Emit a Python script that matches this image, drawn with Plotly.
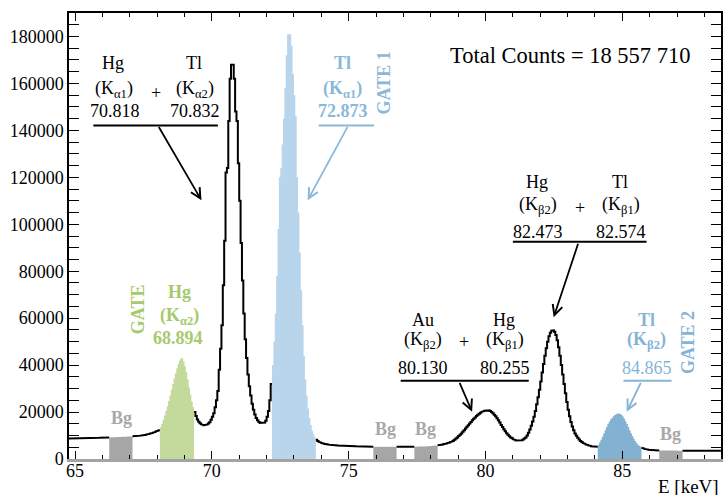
import numpy as np
import plotly.graph_objects as go

# ---- spectrum data: 0.05 keV bins, one row per keV, starting at 64.70 keV ----
BIN_START = 64.7
BIN_WIDTH = 0.05
counts = [
    # 64.70
    8700, 8700, 8700, 8700, 8750, 8750, 8800, 8800, 8800, 8800,
    8850, 8850, 8850, 8850, 8900, 8900, 8900, 8900, 8950, 8950,
    # 65.70
    9000, 9000, 9000, 9000, 9050, 9050, 9100, 9100, 9150, 9150,
    9200, 9200, 9250, 9250, 9300, 9300, 9350, 9350, 9400, 9400,
    # 66.70
    9450, 9450, 9500, 9500, 9550, 9550, 9600, 9600, 9650, 9700,
    9750, 9800, 9900, 9950, 10000, 10100, 10200, 10300, 10450, 10600,
    # 67.70
    10750, 10900, 11100, 11300, 11550, 11800, 12050, 12300, 13500, 15000,
    16700, 18500, 20500, 22500, 24700, 27000, 29500, 32000, 34300, 36500,
    # 68.70
    38600, 40500, 42000, 43000, 42800, 41500, 39500, 37000, 34000, 30500,
    27500, 24500, 22200, 20000, 18300, 16800, 15900, 15200, 14800, 14500,
    # 69.70
    14400, 14450, 14700, 15100, 15700, 16700, 18000, 19500, 22000, 25000,
    29000, 38000, 47000, 57000, 74000, 93000, 122000, 124000, 144000, 162000,
    # 70.70
    168000, 168000, 162000, 148000, 144000, 126000, 110000, 92000, 76000, 62000,
    51000, 43000, 36000, 31000, 27000, 23500, 21000, 19000, 17500, 16500,
    # 71.70
    15800, 15400, 15200, 15200, 15500, 16300, 18000, 20500, 25000, 32000,
    40000, 50000, 62000, 78000, 98000, 120000, 124000, 134000, 145000, 158000,
    # 72.70
    172000, 181000, 181000, 181000, 176000, 164000, 155000, 146000, 120000, 105000,
    88000, 72000, 57000, 44000, 34000, 27000, 21500, 17500, 14500, 12000,
    # 73.70
    10500, 9200, 8200, 7700, 7300, 7000, 6800, 6600, 6450, 6300,
    6200, 6100, 6050, 6000, 5950, 5900, 5850, 5800, 5750, 5700,
    # 74.70
    5700, 5650, 5650, 5600, 5600, 5550, 5550, 5500, 5500, 5450,
    5450, 5400, 5400, 5400, 5350, 5350, 5350, 5300, 5300, 5300,
    # 75.70
    5250, 5250, 5250, 5250, 5200, 5200, 5200, 5200, 5200, 5200,
    5200, 5200, 5200, 5200, 5200, 5200, 5200, 5200, 5200, 5200,
    # 76.70
    5200, 5200, 5200, 5200, 5200, 5200, 5200, 5200, 5200, 5200,
    5200, 5200, 5200, 5250, 5250, 5250, 5300, 5300, 5300, 5300,
    # 77.70
    5350, 5350, 5400, 5400, 5450, 5500, 5550, 5600, 5650, 5700,
    5750, 5850, 5950, 6050, 6150, 6300, 6450, 6600, 6800, 7000,
    # 78.70
    7200, 7500, 7800, 8200, 8700, 9200, 9800, 10300, 10900, 11600,
    12300, 13000, 13700, 14400, 15100, 15800, 16500, 17100, 17700, 18300,
    # 79.70
    18800, 19300, 19700, 20100, 20400, 20600, 20800, 20800, 20700, 20400,
    20000, 19500, 18900, 18200, 17400, 16500, 15500, 14500, 13600, 12700,
    # 80.70
    11800, 11000, 10300, 9700, 9200, 8800, 8400, 8100, 7900, 7800,
    7800, 7850, 8000, 8300, 8700, 9200, 10000, 11200, 12600, 14200,
    # 81.70
    16000, 18000, 20500, 23300, 26300, 29500, 33000, 36800, 40500, 44000,
    47200, 50000, 52300, 53800, 54700, 54800, 54200, 52800, 50600, 47600,
    # 82.70
    44000, 40000, 36000, 32000, 28000, 24300, 21000, 18200, 15800, 13800,
    12200, 10900, 9900, 9000, 8300, 7700, 7200, 6800, 6500, 6200,
    # 83.70
    6000, 5800, 5600, 5450, 5350, 5300, 5250, 5200, 6000, 7000,
    8200, 9500, 10900, 12300, 13600, 14800, 15900, 16800, 17500, 18200,
    # 84.70
    18700, 19100, 19400, 19400, 19200, 18800, 18100, 17200, 16100, 14900,
    13600, 12300, 11000, 9800, 8700, 7700, 6800, 6100, 5600, 5200,
    # 85.70
    4800, 4500, 4300, 4100, 4000, 3900, 3800, 3750, 3700, 3700,
    3650, 3650, 3600, 3600, 3600, 3600, 3600, 3600, 3600, 3600,
    # 86.70
    3600, 3600, 3600, 3600, 3600, 3600, 3550, 3550, 3550, 3550,
    3550, 3550, 3550, 3550, 3550, 3550, 3550, 3550, 3550, 3550,
    # 87.70 - 88.55
    3550, 3550, 3550, 3550, 3550, 3550, 3550, 3550, 3550, 3550,
    3550, 3550, 3550, 3550, 3550, 3550, 3550, 3550,
]
edges = np.round(BIN_START + BIN_WIDTH * np.arange(len(counts) + 1), 3)

# gate and background windows (keV)
gate_names = ["Hg Ka2", "Tl Ka1", "Tl Kb2"]
gate_lo = [68.10, 72.20, 84.10]
gate_hi = [69.35, 73.80, 85.70]
gate_colors = ["#c4d99c", "#b8d5eb", "#83b1d2"]
bg_lo = [66.25, 75.90, 77.40, 86.35]
bg_hi = [67.10, 76.75, 78.25, 87.20]
BG_COLOR = "#a6a6a6"

x_range = [64.78, 88.605]
y_range = [0, 190000]

FONT = "Liberation Serif"
BLUE_TXT = "#89b8da"
DBLUE_TXT = "#86b4d6"
GREEN_TXT = "#a6c96e"
GRAY_TXT = "#a8a8a8"


def bin_index(e):
    return int(round((e - BIN_START) / BIN_WIDTH))


def window_steps(lo, hi):
    i0, i1 = bin_index(lo), bin_index(hi)
    xs = list(edges[i0:i1 + 1])
    ys = list(counts[i0:i1]) + [counts[i1 - 1]]
    return xs, ys


windows = list(zip(gate_lo, gate_hi)) + list(zip(bg_lo, bg_hi))
masked = set()
for lo, hi in windows:
    masked.update(range(bin_index(lo), bin_index(hi)))

# black outline, interrupted over the filled windows
line_x, line_y = [], []
for i in range(len(counts)):
    if i in masked:
        if line_x and line_x[-1] is not None:
            line_x.append(None)
            line_y.append(None)
        continue
    line_x += [edges[i], edges[i + 1]]
    line_y += [counts[i], counts[i]]

fig = go.Figure()

fill_specs = [(lo, hi, BG_COLOR, "Bg") for lo, hi in zip(bg_lo, bg_hi)] + \
             [(lo, hi, col, nm) for nm, lo, hi, col in zip(gate_names, gate_lo, gate_hi, gate_colors)]
for lo, hi, col, nm in fill_specs:
    xs, ys = window_steps(lo, hi)
    fig.add_trace(go.Scatter(x=xs, y=ys, fill="tozeroy", fillcolor=col, name=nm,
                             mode="lines", line=dict(width=0, color=col, shape="hv"),
                             hoverinfo="skip", showlegend=False))

fig.add_trace(go.Scatter(x=line_x, y=line_y, mode="lines",
                         line=dict(color="black", width=2),
                         hoverinfo="skip", showlegend=False, connectgaps=False))

# carrier trace for the top (mirrored) energy axis
fig.add_trace(go.Scatter(x=[edges[0]], y=[y_range[0]], xaxis="x2", mode="markers",
                         marker=dict(opacity=0), hoverinfo="skip", showlegend=False))

annotations = []


def txt(x, y, text, color="black", size=18, angle=0):
    annotations.append(dict(x=x, y=y, xref="x", yref="y", text=text, showarrow=False,
                            textangle=angle, xanchor="center", yanchor="middle",
                            font=dict(family=FONT, size=size, color=color)))


def arrow(x0, y0, x1, y1, color):
    annotations.append(dict(x=x1, y=y1, ax=x0, ay=y0, xref="x", yref="y",
                            axref="x", ayref="y", text="", showarrow=True,
                            arrowhead=5, arrowsize=1.1, arrowwidth=1.8,
                            arrowcolor=color))


shapes = []


def underline(x0, x1, y, color):
    shapes.append(dict(type="line", xref="x", yref="y", x0=x0, x1=x1, y0=y, y1=y,
                       line=dict(color=color, width=2)))


# Hg Ka1 + Tl Ka2 doublet
txt(66.40, 168900, "Hg")
txt(69.35, 168900, "Tl")
txt(66.42, 157500, "(K<sub>α1</sub>)")
txt(67.95, 156000, "+")
txt(69.40, 157500, "(K<sub>α2</sub>)")
txt(66.45, 148100, "70.818")
txt(69.40, 148100, "70.832")
underline(65.67, 70.22, 142100, "black")
arrow(68.03, 142100, 69.62, 110200, "black")

# Tl Ka1, gate 1
txt(74.76, 168900, "<b>Tl</b>", BLUE_TXT)
txt(74.76, 157500, "<b>(K<sub>α1</sub>)</b>", BLUE_TXT)
txt(74.80, 148100, "<b>72.873</b>", BLUE_TXT)
underline(73.90, 75.93, 142100, BLUE_TXT)
arrow(74.99, 142100, 73.50, 110200, BLUE_TXT)
txt(76.29, 160400, "<b>GATE 1</b>", BLUE_TXT, angle=-90)

txt(83.09, 171900, "Total Counts = 18 557 710", size=22.5)

# Hg Kb2 + Tl Kb1
txt(81.88, 118000, "Hg")
txt(84.93, 118000, "Tl")
txt(81.90, 107800, "(K<sub>β2</sub>)")
txt(83.46, 106800, "+")
txt(84.95, 107800, "(K<sub>β1</sub>)")
txt(81.90, 96700, "82.473")
txt(84.95, 96700, "82.574")
underline(81.00, 85.885, 92500, "black")
arrow(83.40, 92300, 82.49, 60400, "black")

# Au Kb2 + Hg Kb1
txt(77.71, 59400, "Au")
txt(80.68, 59400, "Hg")
txt(77.73, 50300, "(K<sub>β2</sub>)")
txt(79.21, 49800, "+")
txt(80.70, 50300, "(K<sub>β1</sub>)")
txt(77.71, 38600, "80.130")
txt(80.70, 38600, "80.255")
underline(76.90, 81.58, 33300, "black")
arrow(79.03, 33100, 79.51, 20100, "black")

# Tl Kb2, gate 2
txt(85.89, 59400, "<b>Tl</b>", DBLUE_TXT)
txt(85.89, 50300, "<b>(K<sub>β2</sub>)</b>", DBLUE_TXT)
txt(85.91, 38600, "84.865", DBLUE_TXT)
underline(85.04, 86.80, 33300, DBLUE_TXT)
arrow(85.70, 33100, 85.16, 20100, DBLUE_TXT)
txt(87.40, 49400, "<b>GATE 2</b>", DBLUE_TXT, angle=-90)

# Hg Ka2 gate
txt(67.30, 63800, "<b>GATE</b>", GREEN_TXT, angle=-90)
txt(68.83, 71200, "<b>Hg</b>", GREEN_TXT)
txt(68.80, 60800, "<b>(K<sub>α2</sub>)</b>", GREEN_TXT)
txt(68.75, 51400, "<b>68.894</b>", GREEN_TXT)

# background windows
for bx, by in zip([66.70, 76.36, 77.81, 86.76], [17300, 12600, 12600, 10600]):
    txt(bx, by, "<b>Bg</b>", GRAY_TXT)

annotations.append(dict(x=1.0, y=-0.062, xref="paper", yref="paper", text="E [keV]",
                        showarrow=False, xanchor="right", yanchor="middle",
                        font=dict(family=FONT, size=19, color="black")))

tickfont = dict(family=FONT, size=18, color="black")

fig.update_layout(
    width=723, height=495,
    margin=dict(l=69, r=0, t=13, b=36, pad=0),
    paper_bgcolor="white", plot_bgcolor="white",
    showlegend=False,
    annotations=annotations,
    shapes=shapes,
    xaxis=dict(range=x_range, showline=True, linecolor="#a3a3a3", linewidth=3,
               ticks="inside", ticklen=8, tickwidth=1, tickcolor="black",
               tick0=65, dtick=5, tickfont=tickfont, ticklabelstandoff=-7,
               minor=dict(dtick=1, ticks="inside", ticklen=4, tickcolor="black", tickwidth=1),
               showgrid=False, zeroline=False),
    xaxis2=dict(range=x_range, overlaying="x", side="top", anchor="y",
                showline=True, linecolor="black", linewidth=1.5,
                ticks="inside", ticklen=8, tickwidth=1, tickcolor="black",
                tick0=65, dtick=5, showticklabels=False,
                minor=dict(dtick=1, ticks="inside", ticklen=4, tickcolor="black", tickwidth=1),
                showgrid=False, zeroline=False),
    yaxis=dict(range=y_range, showline=True, linecolor="black", linewidth=1.5,
               mirror="allticks", ticks="inside", ticklen=10, tickwidth=1,
               tickcolor="black", dtick=20000, tickformat="d", tickfont=tickfont,
               minor=dict(dtick=5000, ticks="inside", ticklen=5, tickcolor="black", tickwidth=1),
               showgrid=False, zeroline=False),
)

fig.write_html("out.html")
